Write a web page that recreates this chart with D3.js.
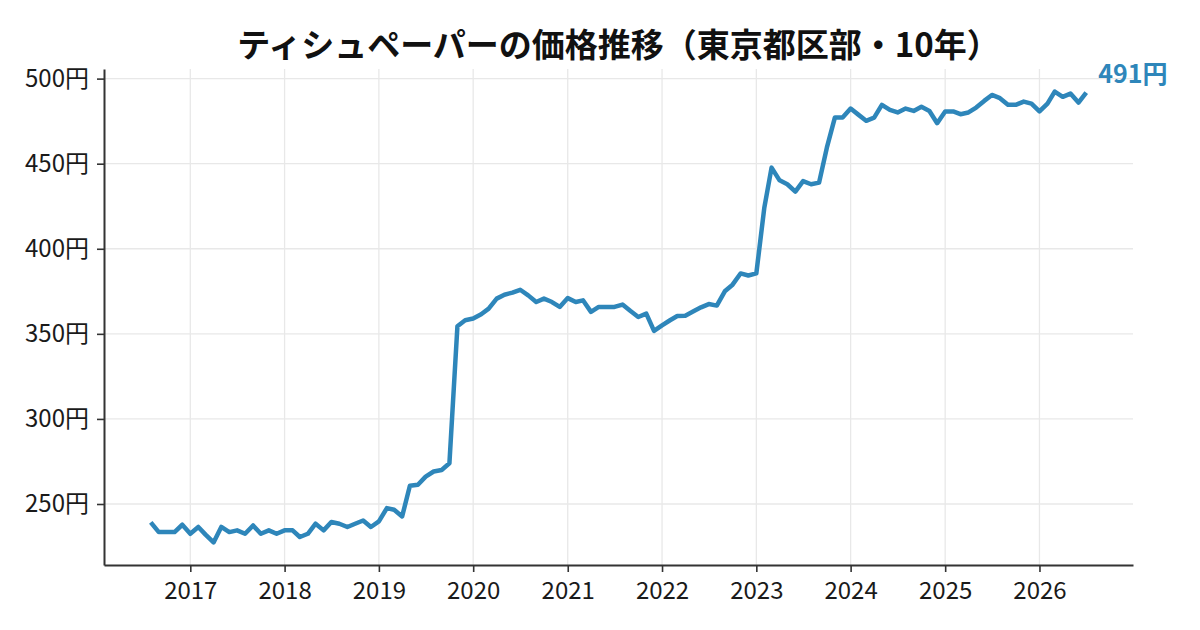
<!DOCTYPE html>
<html>
<head>
<meta charset="utf-8">
<script src="https://cdn.jsdelivr.net/npm/d3@7"></script>
<style>
  body { margin: 0; background: #fff; }
  text { font-family: "Noto Sans CJK JP", "Noto Sans", sans-serif; }
</style>
</head>
<body>
<div id="chart"></div>
<script>
// ***** Data *****
var startMonth = "2016-08";
var prices = [
  239.2, 233.5, 233.5, 233.5, 237.8,
  232.5, 236.5, 232.0, 227.4, 236.5, 233.5, 234.5, 232.5, 237.4, 232.5, 234.5, 232.5,
  234.5, 234.5, 230.6, 232.5, 238.4, 234.5, 239.4, 238.4, 236.5, 238.4, 240.3, 236.5,
  239.8, 247.6, 246.6, 242.7, 260.7, 261.3, 266.1, 269.1, 270.0, 273.9, 354.5, 358.0,
  359.0, 361.5, 364.8, 370.7, 373.0, 374.2, 375.9, 372.6, 368.7, 370.7, 368.7, 365.8,
  371.0, 368.7, 369.7, 362.9, 365.8, 365.8, 365.8, 367.2, 363.4, 359.9, 361.9, 351.7,
  355.0, 358.0, 360.5, 360.7, 363.1, 365.6, 367.5, 366.6, 375.0, 378.9, 385.5, 384.3,
  385.5, 424.2, 447.7, 440.2, 437.9, 433.6, 439.8, 437.9, 438.9, 459.4, 477.1, 477.1,
  482.4, 478.7, 475.2, 477.1, 484.6, 481.6, 480.1, 482.4, 481.0, 483.4, 481.0, 473.8,
  480.7, 480.7, 479.1, 480.1, 483.0, 486.9, 490.4, 488.5, 484.6, 484.6, 486.5, 485.3,
  480.7, 485.3, 492.4, 489.3, 491.2, 485.9, 491.8
];
var yTicks = [250, 300, 350, 400, 450, 500];
var xTickYears = [2017, 2018, 2019, 2020, 2021, 2022, 2023, 2024, 2025, 2026];
var titleText = "ティシュペーパーの価格推移（東京都区部・10年）";
var lastLabel = "491円";

// build monthly dates
var parseMonth = d3.timeParse("%Y-%m");
var start = parseMonth(startMonth);
var priceData = prices.map(function(v, i) {
    return { date: d3.timeMonth.offset(start, i), value: v };
});

// ***** Layout *****
var svgWidth = 1200;
var svgHeight = 630;
var margin = { top: 69, right: 67, bottom: 65, left: 104 };
var width = svgWidth - margin.left - margin.right;
var height = svgHeight - margin.top - margin.bottom;
var lineColor = "#2e86ba";

var svg = d3.select("#chart").append("svg")
    .attr("width", svgWidth)
    .attr("height", svgHeight);

var chartGroup = svg.append("g")
    .attr("transform", `translate(${margin.left}, ${margin.top})`);

// scales with 5% padding like matplotlib
var xExt = d3.extent(priceData, d => d.date);
var xPad = (xExt[1] - xExt[0]) * 0.05;
var xScale = d3.scaleTime()
    .domain([new Date(+xExt[0] - xPad), new Date(+xExt[1] + xPad)])
    .range([0, width]);

var yExt = d3.extent(priceData, d => d.value);
var yPad = (yExt[1] - yExt[0]) * 0.05;
var yScale = d3.scaleLinear()
    .domain([yExt[0] - yPad, yExt[1] + yPad])
    .range([height, 0]);

var xTickDates = xTickYears.map(y => new Date(y, 0, 1));

// grid
chartGroup.append("g")
    .selectAll("line.vgrid")
    .data(xTickDates)
    .enter()
    .append("line")
    .attr("x1", d => xScale(d))
    .attr("x2", d => xScale(d))
    .attr("y1", 0)
    .attr("y2", height)
    .attr("stroke", "#e8e8e8")
    .attr("stroke-width", 1.3);

chartGroup.append("g")
    .selectAll("line.hgrid")
    .data(yTicks)
    .enter()
    .append("line")
    .attr("x1", 0)
    .attr("x2", width)
    .attr("y1", d => yScale(d))
    .attr("y2", d => yScale(d))
    .attr("stroke", "#e8e8e8")
    .attr("stroke-width", 1.3);

// axes (tickSize first, it also sets the outer size)
var bottomAxis = d3.axisBottom(xScale)
    .tickValues(xTickDates)
    .tickFormat(d3.timeFormat("%Y"))
    .tickSize(7)
    .tickSizeOuter(0)
    .tickPadding(10);

var leftAxis = d3.axisLeft(yScale)
    .tickValues(yTicks)
    .tickFormat(d => d + "円")
    .tickSize(7)
    .tickSizeOuter(0)
    .tickPadding(8);

var xAxis = chartGroup.append("g")
    .attr("transform", `translate(0, ${height})`)
    .call(bottomAxis);

var yAxis = chartGroup.append("g")
    .call(leftAxis);

[xAxis, yAxis].forEach(function(ax) {
    ax.select(".domain").attr("stroke", "#333").attr("stroke-width", 2);
    ax.selectAll(".tick line").attr("stroke", "#333").attr("stroke-width", 1.6);
    ax.selectAll(".tick text")
        .attr("fill", "#1a1a1a")
        .attr("font-size", "24px")
        .style("font-family", '"Noto Sans CJK JP", sans-serif');
});

// line
var line = d3.line()
    .x(d => xScale(d.date))
    .y(d => yScale(d.value));

chartGroup.append("path")
    .datum(priceData)
    .attr("fill", "none")
    .attr("stroke", lineColor)
    .attr("stroke-width", 4.5)
    .attr("stroke-linejoin", "round")
    .attr("stroke-linecap", "butt")
    .attr("d", line);

// last value label
var lastPoint = priceData[priceData.length - 1];
chartGroup.append("text")
    .attr("x", xScale(lastPoint.date) + 12)
    .attr("y", yScale(lastPoint.value) - 10)
    .attr("fill", lineColor)
    .attr("font-size", "25px")
    .attr("font-weight", "bold")
    .text(lastLabel);

// title
svg.append("text")
    .attr("x", margin.left + width / 2)
    .attr("y", 57)
    .attr("text-anchor", "middle")
    .attr("font-size", "33px")
    .attr("font-weight", "bold")
    .attr("fill", "#111")
    .text(titleText);
</script>
</body>
</html>
